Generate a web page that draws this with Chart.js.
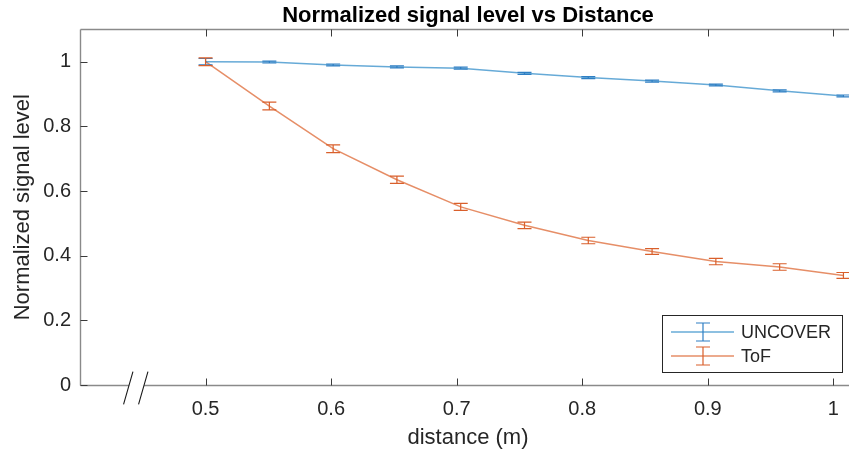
<!DOCTYPE html>
<html>
<head>
<meta charset="utf-8">
<script src="https://cdn.jsdelivr.net/npm/chart.js@4/dist/chart.umd.min.js"></script>
<style>
  html, body { margin: 0; padding: 0; overflow: hidden; background: #fff; }
  #wrap { width: 870px; height: 452px; }
</style>
</head>
<body>
<div id="wrap"><canvas id="c" width="870" height="452"></canvas></div>
<script>
// Measurement positions (m) and normalized levels with their error half-widths
const distance   = [0.5, 0.5508, 0.6016, 0.6524, 0.7032, 0.754, 0.8048, 0.8556, 0.9064, 0.9572, 1.008];
const uncover    = [1.0, 0.999, 0.990, 0.984, 0.980, 0.964, 0.951, 0.940, 0.928, 0.910, 0.894];
const uncoverErr = [0.010, 0.003, 0.003, 0.003, 0.003, 0.003, 0.003, 0.003, 0.003, 0.003, 0.003];
const tof        = [1.0, 0.863, 0.731, 0.635, 0.551, 0.494, 0.447, 0.413, 0.382, 0.365, 0.339];
const tofErr     = [0.012, 0.012, 0.012, 0.011, 0.011, 0.010, 0.010, 0.009, 0.010, 0.010, 0.009];
const xTicks = [0.5, 0.6, 0.7, 0.8, 0.9, 1];
const yTicks = [0, 0.2, 0.4, 0.6, 0.8, 1];
const seriesNames = ['UNCOVER', 'ToF'];

const FONT = '"Liberation Sans", Arial, Helvetica, sans-serif';
const TEXT = '#262626';
const series = [
  { name: seriesNames[0], y: uncover, err: uncoverErr, line: 'rgba(0,114,189,0.6)', bar: '#2f7fc4' },
  { name: seriesNames[1], y: tof,     err: tofErr,     line: 'rgba(217,83,25,0.66)', bar: '#d95f2b' }
];

function crisp(v) { return Math.round(v) + 0.5; }

// Vertical error bars with caps, placed through the chart's scales
const errorBars = {
  id: 'errorBars',
  afterDatasetsDraw(chart) {
    const { ctx, chartArea } = chart;
    const xs = chart.scales.x, ys = chart.scales.y;
    ctx.save();
    ctx.beginPath();
    ctx.rect(chartArea.left, chartArea.top, chartArea.right - chartArea.left, chartArea.bottom - chartArea.top);
    ctx.clip();
    series.forEach(s => {
      ctx.strokeStyle = s.bar;
      ctx.lineWidth = 1.2;
      distance.forEach((d, i) => {
        const px = xs.getPixelForValue(d);
        const y1 = ys.getPixelForValue(s.y[i] + s.err[i]);
        const y2 = ys.getPixelForValue(s.y[i] - s.err[i]);
        ctx.beginPath();
        ctx.moveTo(px, y1); ctx.lineTo(px, y2);
        ctx.moveTo(px - 7, y1); ctx.lineTo(px + 7, y1);
        ctx.moveTo(px - 7, y2); ctx.lineTo(px + 7, y2);
        ctx.stroke();
      });
    });
    ctx.restore();
  }
};

// Axes box with inward ticks and the break mark on the distance axis
const axesFrame = {
  id: 'axesFrame',
  afterDraw(chart) {
    const { ctx, chartArea } = chart;
    const xs = chart.scales.x, ys = chart.scales.y;
    const L = crisp(chartArea.left), T = crisp(chartArea.top), B = crisp(chartArea.bottom);
    const R = chart.width;
    ctx.save();
    ctx.strokeStyle = '#8a8a8a';
    ctx.lineWidth = 1.4;
    ctx.beginPath();
    ctx.moveTo(L, T); ctx.lineTo(R, T);
    ctx.moveTo(L, T); ctx.lineTo(L, B);
    ctx.moveTo(L, B); ctx.lineTo(R, B);
    ctx.stroke();

    ctx.strokeStyle = '#3a3a3a';
    ctx.lineWidth = 1;
    ctx.beginPath();
    xTicks.forEach(v => {
      const px = crisp(xs.getPixelForValue(v));
      ctx.moveTo(px, B); ctx.lineTo(px, B - 7);
      ctx.moveTo(px, T); ctx.lineTo(px, T + 7);
    });
    yTicks.forEach(v => {
      const py = crisp(ys.getPixelForValue(v));
      ctx.moveTo(L, py); ctx.lineTo(L + 7, py);
    });
    ctx.stroke();

    // break mark "//"
    const bx = xs.getPixelForValue(0.4444);
    const by = chartArea.bottom + 3;
    ctx.fillStyle = '#fff';
    ctx.beginPath();
    ctx.moveTo(bx - 7.5 + 2, by - 6); ctx.lineTo(bx + 7.5 + 2, by - 6);
    ctx.lineTo(bx + 7.5 - 2, by + 6); ctx.lineTo(bx - 7.5 - 2, by + 6);
    ctx.closePath();
    ctx.fill();
    ctx.strokeStyle = '#1a1a1a';
    ctx.lineWidth = 1.1;
    ctx.beginPath();
    [-7.5, 7.5].forEach(o => {
      ctx.moveTo(bx + o - 4.7, by + 16.3);
      ctx.lineTo(bx + o + 4.7, by - 16.3);
    });
    ctx.stroke();
    ctx.restore();
  }
};

// Boxed legend with error-bar symbols
const errLegend = {
  id: 'errLegend',
  afterDraw(chart) {
    const { ctx, chartArea } = chart;
    const w = 180, h = 57;
    const x0 = chartArea.right - 14 - w;
    const y0 = chartArea.bottom - 13 - h;
    ctx.save();
    ctx.fillStyle = '#fff';
    ctx.fillRect(x0, y0, w, h);
    ctx.strokeStyle = '#262626';
    ctx.lineWidth = 1;
    ctx.strokeRect(crisp(x0), crisp(y0), w, h);
    ctx.font = '18px ' + FONT;
    ctx.textBaseline = 'middle';
    ctx.textAlign = 'left';
    series.forEach((s, i) => {
      const cy = y0 + 17 + i * 24;
      ctx.strokeStyle = s.line;
      ctx.lineWidth = 1.4;
      ctx.beginPath();
      ctx.moveTo(x0 + 9, cy); ctx.lineTo(x0 + 72, cy);
      ctx.stroke();
      ctx.strokeStyle = s.bar;
      ctx.lineWidth = 1.2;
      const cx = x0 + 41;
      ctx.beginPath();
      ctx.moveTo(cx, cy - 9); ctx.lineTo(cx, cy + 9);
      ctx.moveTo(cx - 7, cy - 9); ctx.lineTo(cx + 7, cy - 9);
      ctx.moveTo(cx - 7, cy + 9); ctx.lineTo(cx + 7, cy + 9);
      ctx.stroke();
      ctx.fillStyle = TEXT;
      ctx.fillText(s.name, x0 + 79, cy + 1);
    });
    ctx.restore();
  }
};

new Chart(document.getElementById('c'), {
  type: 'line',
  data: {
    datasets: series.map(s => ({
      label: s.name,
      data: distance.map((d, i) => ({ x: d, y: s.y[i] })),
      borderColor: s.line,
      borderWidth: 1.5,
      pointRadius: 0,
      tension: 0,
      fill: false
    }))
  },
  options: {
    responsive: false,
    devicePixelRatio: 1,
    animation: false,
    layout: { padding: { top: 0, right: 14, bottom: 0, left: 0 } },
    plugins: {
      legend: { display: false },
      tooltip: { enabled: false },
      title: {
        display: true,
        text: 'Normalized signal level vs Distance',
        fullSize: false,
        color: '#000',
        font: { family: FONT, size: 22, weight: 'bold', lineHeight: 1.2 },
        padding: { top: 3, bottom: 0 }
      }
    },
    scales: {
      x: {
        type: 'linear',
        min: 0.4,
        max: 1.018,
        grid: { display: false, drawTicks: false },
        border: { display: false },
        afterBuildTicks: s => { s.ticks = xTicks.map(v => ({ value: v })); },
        afterFit: s => { s.height = 67; },
        ticks: {
          color: TEXT,
          font: { family: FONT, size: 20 },
          padding: 12,
          maxRotation: 0,
          callback: v => String(v)
        },
        title: {
          display: true,
          text: 'distance (m)',
          color: TEXT,
          font: { family: FONT, size: 22 },
          padding: { top: 0, bottom: 1 }
        }
      },
      y: {
        type: 'linear',
        min: 0,
        max: 1.1,
        grid: { display: false, drawTicks: false },
        border: { display: false },
        afterBuildTicks: s => { s.ticks = yTicks.map(v => ({ value: v })); },
        afterFit: s => { s.width = 80; },
        ticks: {
          color: TEXT,
          font: { family: FONT, size: 20 },
          padding: 9,
          callback: v => String(v)
        },
        title: {
          display: true,
          text: 'Normalized signal level',
          color: TEXT,
          font: { family: FONT, size: 22 },
          padding: { top: 10, bottom: 0 }
        }
      }
    }
  },
  plugins: [errorBars, axesFrame, errLegend]
});
</script>
</body>
</html>
